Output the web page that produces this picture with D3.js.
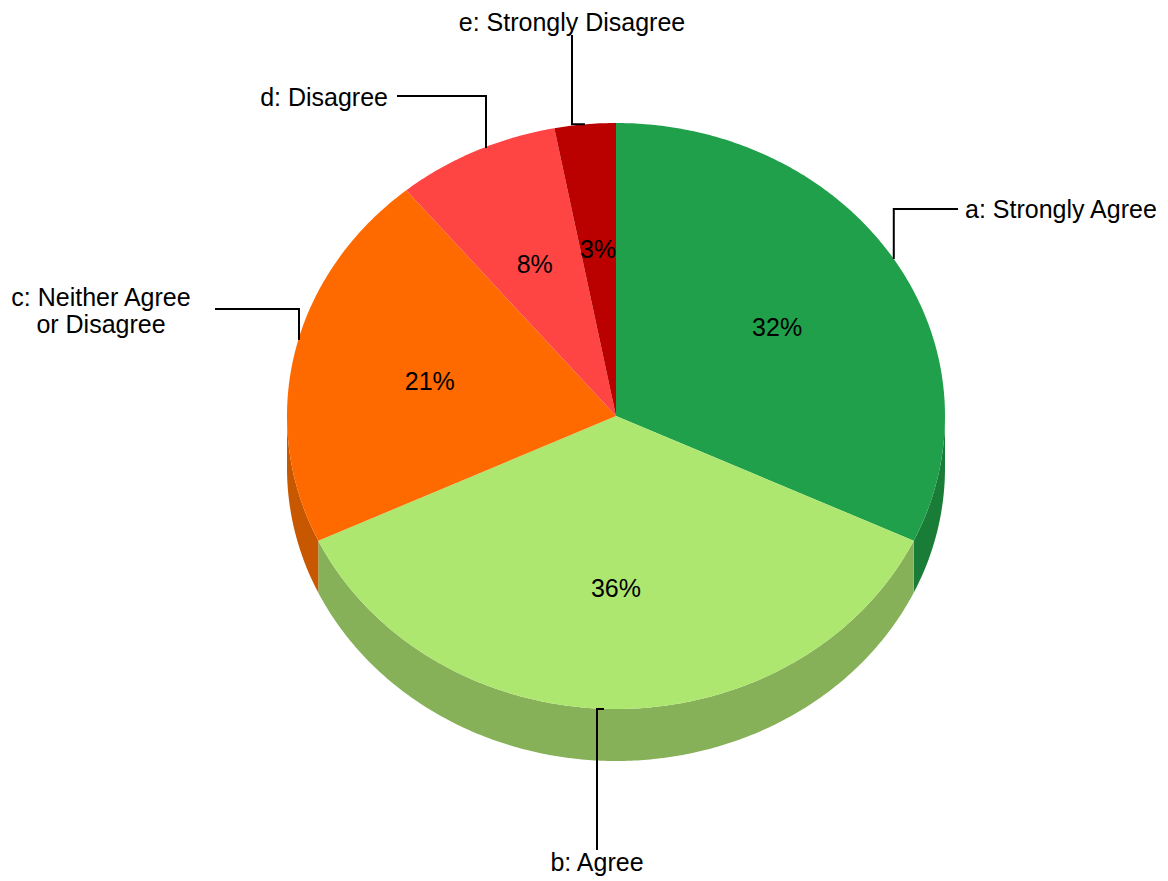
<!DOCTYPE html>
<html>
<head>
<meta charset="utf-8">
<script src="https://cdn.jsdelivr.net/npm/d3@7/dist/d3.min.js"></script>
<style>
  html, body { margin: 0; padding: 0; background: #fff; }
  svg text { font-family: "Liberation Sans", Arial, sans-serif; fill: #000; }
</style>
</head>
<body>
<svg id="chart" width="1168" height="881"></svg>
<script>
// Survey responses
const categories = ["a: Strongly Agree", "b: Agree", "c: Neither Agree or Disagree", "d: Disagree", "e: Strongly Disagree"];
const labelLines = [["a: Strongly Agree"], ["b: Agree"], ["c: Neither Agree", "or Disagree"], ["d: Disagree"], ["e: Strongly Disagree"]];
const values = [32, 36, 21, 8, 3];
const percentLabels = ["32%", "36%", "21%", "8%", "3%"];
const topColors = ["#20a04a", "#aee76f", "#ff6a00", "#ff4444", "#bb0000"];
const sideColors = ["#1a7d37", "#87b158", "#c85800", "#cc3636", "#950000"];

const svg = d3.select("#chart");
const cx = 616, cy = 416, rx = 329, ry = 293, depth = 52;
const fontSize = 25;

const pie = d3.pie().sort(null).value(d => d)(values);

// Projected ellipse point for an angle measured clockwise from 12 o'clock
const pt = (a, r = 1, dy = 0) => [cx + rx * r * Math.sin(a), cy - ry * r * Math.cos(a) + dy];

function arcPoints(a0, a1, dy = 0) {
  const n = Math.max(2, Math.ceil((a1 - a0) / 0.01));
  return d3.range(n + 1).map(i => pt(a0 + (a1 - a0) * i / n, 1, dy));
}

const line = d3.line();

// Outer walls: only the front half (90°..270°) faces the viewer
const sideG = svg.append("g");
pie.forEach((s, i) => {
  const a0 = Math.max(s.startAngle, Math.PI / 2);
  const a1 = Math.min(s.endAngle, 3 * Math.PI / 2);
  if (a1 <= a0) return;
  const top = arcPoints(a0, a1, 0);
  const bottom = arcPoints(a0, a1, depth).reverse();
  sideG.append("path")
    .attr("d", line(top.concat(bottom)) + "Z")
    .attr("fill", sideColors[i]);
});

// Top faces
const topG = svg.append("g");
pie.forEach((s, i) => {
  const pts = [[cx, cy]].concat(arcPoints(s.startAngle, s.endAngle, 0));
  topG.append("path")
    .attr("d", line(pts) + "Z")
    .attr("fill", topColors[i]);
});

// Percent labels inside slices
svg.append("g").selectAll("text")
  .data(pie)
  .join("text")
  .attr("x", d => pt((d.startAngle + d.endAngle) / 2, 0.58)[0])
  .attr("y", d => pt((d.startAngle + d.endAngle) / 2, 0.58)[1] + 2)
  .attr("text-anchor", "middle")
  .attr("dominant-baseline", "central")
  .attr("font-size", fontSize)
  .text((d, i) => percentLabels[i]);

// Callouts: start on the rim at the slice midpoint, elbow, then run to the label
const callouts = [
  { path: (p) => [p, [p[0], 209], [958, 209]], tx: 965, ty: 209, anchor: "start" },
  { path: (p) => [[p[0] - 12, p[1]], [597, p[1]], [597, 850]], tx: 597, ty: 862, anchor: "middle" },
  { path: (p) => [[299, 340], [299, 309], [215, 309]], tx: 101, ty: 297, anchor: "middle" },
  { path: (p) => [[486, 148], [486, 96], [397, 96]], tx: 388, ty: 97, anchor: "end" },
  { path: (p) => [p, [572, p[1]], [572, 35]], tx: 572, ty: 22, anchor: "middle" }
];

const calloutG = svg.append("g");
pie.forEach((s, i) => {
  const mid = (s.startAngle + s.endAngle) / 2;
  const p = pt(mid);
  const c = callouts[i];
  calloutG.append("path")
    .attr("d", line(c.path(p)))
    .attr("fill", "none")
    .attr("stroke", "#000")
    .attr("stroke-width", 2);
  const t = calloutG.append("text")
    .attr("x", c.tx)
    .attr("y", c.ty)
    .attr("text-anchor", c.anchor)
    .attr("dominant-baseline", "central")
    .attr("font-size", fontSize);
  labelLines[i].forEach((l, j) => {
    t.append("tspan").attr("x", c.tx).attr("dy", j === 0 ? 0 : 27).text(l);
  });
});
</script>
</body>
</html>
